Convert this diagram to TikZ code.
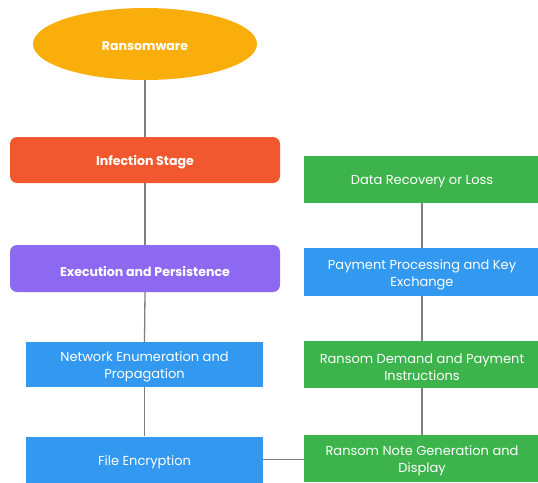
\documentclass[tikz,border=0pt]{standalone}
\usepackage{fontspec}
\setmainfont{Poppins}
\usetikzlibrary{shapes.geometric}
\definecolor{cOrange}{HTML}{F9AE0C}
\definecolor{cRed}{HTML}{F2582F}
\definecolor{cPurple}{HTML}{8D69F1}
\definecolor{cBlue}{HTML}{3399F0}
\definecolor{cGreen}{HTML}{3CB44B}
\definecolor{cLine}{HTML}{7F7F7F}
\tikzset{
  box/.style={draw=none, inner sep=0pt},
  lbl/.style={text=white, align=center, inner sep=0pt, yshift=-2.5pt, font=\fontsize{13}{17}\selectfont},
  blbl/.style={lbl, font=\fontsize{12.6}{16}\selectfont\bfseries},
  txt/.style={label={[lbl]center:#1}},
  btxt/.style={label={[blbl]center:#1}},
  conn/.style={draw=cLine, line width=1.3pt}
}
\begin{document}
\begin{tikzpicture}[x=1pt,y=-1pt]
\useasboundingbox (0,0) rectangle (538,482);
\fill[white] (0,0) rectangle (538,482);
\node[box, ellipse, fill=cOrange, minimum width=224pt, minimum height=72pt, btxt={Ransomware}] (rw) at (145,44) {};
\node[box, rounded corners=7pt, fill=cRed, minimum width=270pt, minimum height=46pt, btxt={Infection Stage}] (inf) at (145,160) {};
\node[box, rounded corners=7pt, fill=cPurple, minimum width=270pt, minimum height=47pt, btxt={Execution and Persistence}] (exe) at (145,268.5) {};
\node[box, fill=cBlue, minimum width=237pt, minimum height=45pt, txt={Network Enumeration and\\Propagation}] (net) at (144.5,364.5) {};
\node[box, fill=cBlue, minimum width=237pt, minimum height=46pt, txt={File Encryption}] (fe) at (144.5,459.5) {};
\node[box, fill=cGreen, minimum width=236pt, minimum height=47pt, txt={Data Recovery or Loss}] (dr) at (422,179.5) {};
\node[box, fill=cBlue, minimum width=236pt, minimum height=48pt, txt={Payment Processing and Key\\Exchange}] (pp) at (422,272) {};
\node[box, fill=cGreen, minimum width=236pt, minimum height=47pt, txt={Ransom Demand and Payment\\Instructions}] (rd) at (422,364.5) {};
\node[box, fill=cGreen, minimum width=236pt, minimum height=47pt, txt={Ransom Note Generation and\\Display}] (rn) at (422,458.5) {};
\draw[conn] (rw.south) -- (inf.north);
\draw[conn] (inf.south) -- (exe.north);
\draw[conn] (exe.south) -- (net.north);
\draw[conn] (net.south) -- (fe.north);
\draw[conn] (fe.east) -- (fe.east -| rn.west);
\draw[conn] (rn.north) -- (rd.south);
\draw[conn] (rd.north) -- (pp.south);
\draw[conn] (pp.north) -- (dr.south);
\end{tikzpicture}
\end{document}
